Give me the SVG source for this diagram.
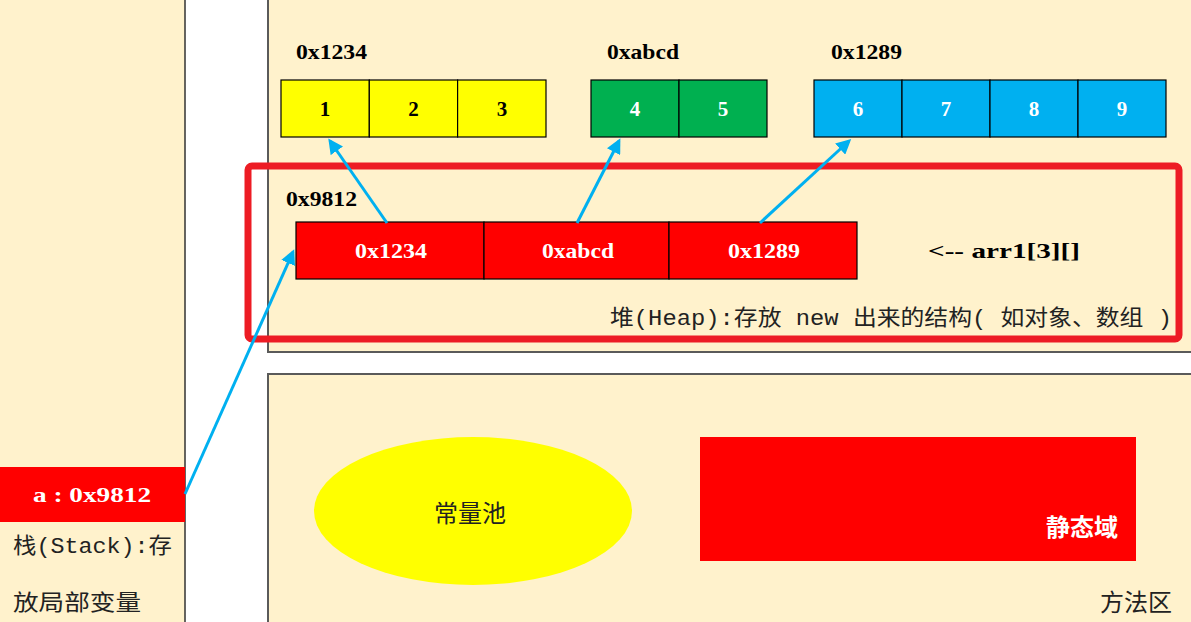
<svg xmlns="http://www.w3.org/2000/svg" width="1191" height="622" viewBox="0 0 1191 622">
<defs>
<style>
.panel{fill:#FFF2CC;stroke:#5a5a5a;stroke-width:2}
.cell{stroke:#000;stroke-width:1.2}
.lbl{font-family:"Liberation Serif","DejaVu Serif",serif;font-weight:bold;font-size:21px;fill:#000}
.num{font-family:"Liberation Serif","DejaVu Serif",serif;font-weight:bold;font-size:21px;text-anchor:middle;dominant-baseline:central}
.w{fill:#fff}
.b{fill:#000}
.cjk{font-family:"Liberation Mono","Noto Sans CJK SC",monospace;font-size:22px;fill:#222}
.zh{font-family:"Noto Sans CJK SC",sans-serif;font-size:24px;fill:#222;text-anchor:middle;dominant-baseline:central}
.conn{stroke:#00B0F0;stroke-width:3;fill:none;marker-end:url(#ah)}
</style>
<marker id="ah" viewBox="0 0 10 10" refX="8" refY="5" markerWidth="5" markerHeight="5" orient="auto" markerUnits="strokeWidth">
<path d="M0,0 L10,5 L0,10 z" fill="#00B0F0"/>
</marker>
</defs>
<rect width="1191" height="622" fill="#fff"/>
<g id="stack">
<rect x="-2" y="-2" width="187" height="630" fill="#FFF2CC" stroke="#333" stroke-width="1.5"/>
<rect x="0" y="467" width="185" height="55" fill="#FF0000"/>
<text class="lbl w" x="33" y="502" textLength="118" lengthAdjust="spacingAndGlyphs">a : 0x9812</text>
<text class="cjk" x="13" y="553" font-size="24" textLength="159" lengthAdjust="spacingAndGlyphs">栈(Stack):存</text>
<text class="cjk" x="13" y="610" font-size="24" textLength="128" lengthAdjust="spacingAndGlyphs">放局部变量</text>
</g>
<g id="heap">
<rect class="panel" x="268" y="-3" width="925" height="355"/>
<rect x="248" y="166" width="931" height="173" rx="4" fill="none" stroke="#ED1C24" stroke-width="7"/>
<text class="cjk" x="610" y="325" textLength="562" lengthAdjust="spacingAndGlyphs">堆(Heap):存放 new 出来的结构( 如对象、数组 )</text>
</g>
<g id="arr-1234">
<text class="lbl" x="296" y="59" textLength="71" lengthAdjust="spacingAndGlyphs">0x1234</text>
<rect class="cell" x="281" y="80" width="88.3" height="57" fill="#FFFF00"/>
<rect class="cell" x="369.3" y="80" width="88.3" height="57" fill="#FFFF00"/>
<rect class="cell" x="457.6" y="80" width="88.4" height="57" fill="#FFFF00"/>
<text class="num b" x="325" y="109">1</text>
<text class="num b" x="413.5" y="109">2</text>
<text class="num b" x="502" y="109">3</text>
</g>
<g id="arr-abcd">
<text class="lbl" x="607" y="59" textLength="72" lengthAdjust="spacingAndGlyphs">0xabcd</text>
<rect class="cell" x="591" y="80" width="88" height="57" fill="#00B050"/>
<rect class="cell" x="679" y="80" width="88" height="57" fill="#00B050"/>
<text class="num w" x="635" y="109">4</text>
<text class="num w" x="723" y="109">5</text>
</g>
<g id="arr-1289">
<text class="lbl" x="831" y="59" textLength="71" lengthAdjust="spacingAndGlyphs">0x1289</text>
<rect class="cell" x="814" y="80" width="88" height="57" fill="#00B0F0"/>
<rect class="cell" x="902" y="80" width="88" height="57" fill="#00B0F0"/>
<rect class="cell" x="990" y="80" width="88" height="57" fill="#00B0F0"/>
<rect class="cell" x="1078" y="80" width="88" height="57" fill="#00B0F0"/>
<text class="num w" x="858" y="109">6</text>
<text class="num w" x="946" y="109">7</text>
<text class="num w" x="1034" y="109">8</text>
<text class="num w" x="1122" y="109">9</text>
</g>
<g id="arr1">
<text class="lbl" x="286" y="206" textLength="71" lengthAdjust="spacingAndGlyphs">0x9812</text>
<rect class="cell" x="296" y="222" width="188" height="57" fill="#FF0000"/>
<rect class="cell" x="484" y="222" width="185" height="57" fill="#FF0000"/>
<rect class="cell" x="669" y="222" width="188" height="57" fill="#FF0000"/>
<text class="lbl w" x="355" y="258" textLength="72" lengthAdjust="spacingAndGlyphs">0x1234</text>
<text class="lbl w" x="542" y="258" textLength="72" lengthAdjust="spacingAndGlyphs">0xabcd</text>
<text class="lbl w" x="728" y="258" textLength="72" lengthAdjust="spacingAndGlyphs">0x1289</text>
<text class="lbl" x="928" y="258" textLength="152" lengthAdjust="spacingAndGlyphs">&lt;-- arr1[3][]</text>
</g>
<g id="method">
<rect class="panel" x="268" y="374" width="925" height="252"/>
<ellipse cx="473" cy="511" rx="159" ry="74" fill="#FFFF00"/>
<text class="zh" x="470" y="511" font-size="25">常量池</text>
<rect x="700" y="437" width="436" height="124" fill="#FF0000"/>
<text class="zh" x="1082" y="525" font-size="26" font-weight="bold" fill="#fff" style="fill:#fff">静态域</text>
<text class="zh" x="1136" y="600">方法区</text>
</g>
<g id="connectors">
<line class="conn" x1="387" y1="223" x2="330" y2="141"/>
<line class="conn" x1="577" y1="223" x2="619" y2="141"/>
<line class="conn" x1="760" y1="223" x2="849" y2="141"/>
<line class="conn" x1="185" y1="494" x2="293" y2="252"/>
</g>
</svg>
